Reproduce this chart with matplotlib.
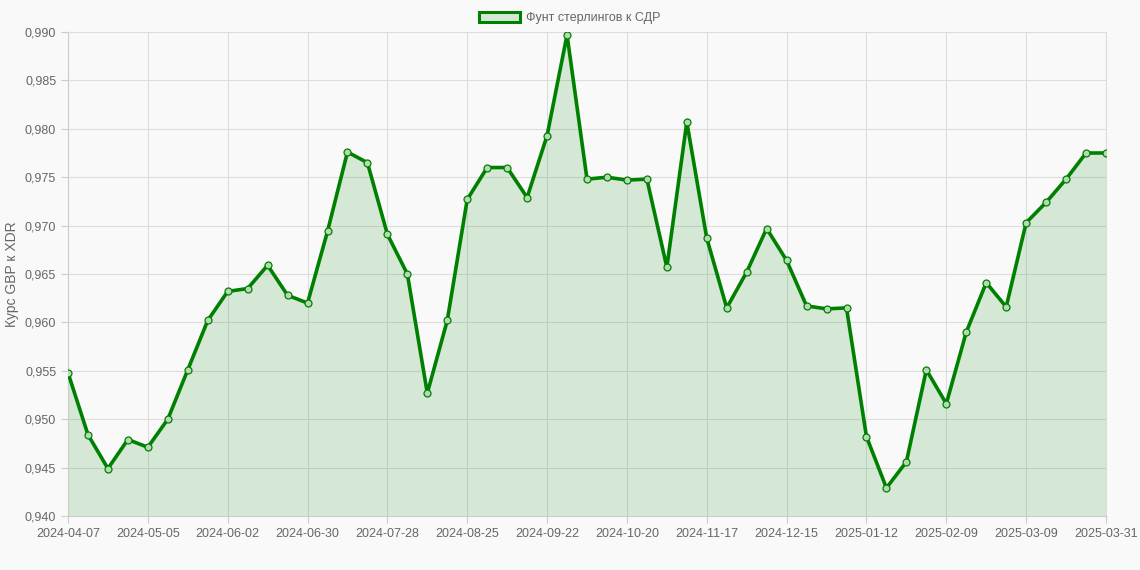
import matplotlib
matplotlib.use('Agg')
import matplotlib.pyplot as plt
import matplotlib.patches as mpatches
import numpy as np
import pandas as pd

# weekly dates + last day of the period
dates = [d.strftime('%Y-%m-%d') for d in pd.date_range('2024-04-07', periods=52, freq='7D')]
dates.append('2025-03-31')

rates = [0.9548, 0.9484, 0.9449, 0.9479, 0.9471, 0.9500, 0.9551, 0.9602, 0.9632, 0.9635,
         0.9659, 0.9628, 0.9620, 0.9694, 0.9776, 0.9765, 0.9691, 0.9650, 0.9527, 0.9602,
         0.9727, 0.9760, 0.9760, 0.9729, 0.9793, 0.9897, 0.9748, 0.9750, 0.9747, 0.9748,
         0.9657, 0.9807, 0.9687, 0.9615, 0.9652, 0.9697, 0.9664, 0.9617, 0.9614, 0.9615,
         0.9482, 0.9429, 0.9456, 0.9551, 0.9516, 0.9590, 0.9641, 0.9616, 0.9703, 0.9724,
         0.9748, 0.9775, 0.9775]

series_name = 'Фунт стерлингов к СДР'
y_label = 'Курс GBP к XDR'

plt.rcParams['font.family'] = ['Liberation Sans', 'DejaVu Sans']

bg = '#f9f9f9'
green = '#008000'

fig = plt.figure(figsize=(11.4, 5.7), dpi=100, facecolor=bg)
ax = fig.add_axes([68/1140, 1 - 516/570, (1106 - 68)/1140, (516 - 32)/570])
ax.set_facecolor(bg)

x = np.arange(len(rates))
ax.fill_between(x, rates, 0.94, color=green, alpha=0.14, linewidth=0, zorder=2)
ax.plot(x, rates, color=green, linewidth=2.6, zorder=3)
ax.plot(x, rates, linestyle='none', marker='o', markersize=5,
        markerfacecolor='#b5d9b5', markeredgecolor=green, markeredgewidth=0.9, zorder=4)

ax.set_xlim(0, len(rates) - 1)
ax.set_ylim(0.94, 0.99)

tick_idx = list(range(0, len(rates) - 1, 4))
if tick_idx[-1] != len(rates) - 1:
    tick_idx.append(len(rates) - 1)
ax.set_xticks(tick_idx)
ax.set_xticklabels([dates[i] for i in tick_idx])

yt = np.arange(0.940, 0.9901, 0.005)
ax.set_yticks(yt)
ax.set_yticklabels([('%.3f' % v).replace('.', ',') for v in yt])

ax.grid(True, color='#dddddd', linewidth=0.8, zorder=0)
ax.set_axisbelow(True)
for side in ['top', 'right']:
    ax.spines[side].set_color('#dddddd')
for side in ['left', 'bottom']:
    ax.spines[side].set_color('#cccccc')
ax.tick_params(colors='#cccccc', labelcolor='#666666', labelsize=9, length=5, width=0.8)

ax.set_ylabel(y_label, color='#666666', fontsize=10, labelpad=4)

handle = mpatches.Patch(facecolor='#d5e8d5', edgecolor=green, linewidth=2.2, label=series_name)
fig.legend(handles=[handle], loc='upper center', bbox_to_anchor=(0.5, 0.995), frameon=False,
           fontsize=9, handlelength=3.3, handleheight=0.9, labelcolor='#666666',
           borderaxespad=0.3, handletextpad=0.5)

fig.savefig('out.png', dpi=100, facecolor=bg)
